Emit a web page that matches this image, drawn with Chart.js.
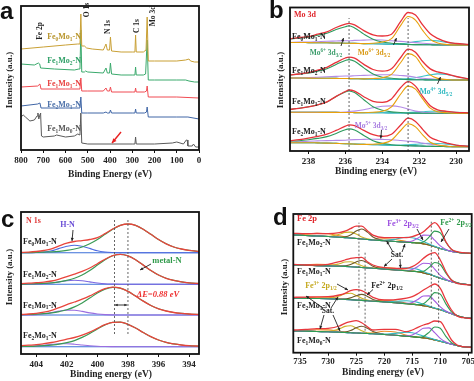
<!DOCTYPE html>
<html><head><meta charset="utf-8">
<script src="https://cdn.jsdelivr.net/npm/chart.js@4.4.1/dist/chart.umd.min.js"></script>
<style>
html,body{margin:0;padding:0;background:#fff;}
body{width:474px;height:381px;position:relative;overflow:hidden;}
canvas{position:absolute;left:0;top:0;}
</style></head>
<body>
<canvas id="ca" width="474" height="381"></canvas>
<canvas id="cb" width="474" height="381"></canvas>
<canvas id="cc" width="474" height="381"></canvas>
<canvas id="cd" width="474" height="381"></canvas>
<script>
// ---------------- DATA ----------------
// Panel a: XPS survey (binding energy eV, intensity a.u. with stacking)
const ticksA = [800,700,600,500,400,300,200,100,0];
const surveyGoldE = [800,700,600,545,535,531,527,515,505,480,430,418,412,402,398,393,350,300,288,285,282,250,238,233,228,200,100,60,45,38,20,0];
const surveyGoldI = [103,105,107,108,108,138,106,106,104,103,102,108,102,102,115,101,100,100,100,117,100,100,102,135,91,91,91,92,93,91,90,90];
const surveyGreenE = [800,740,722,716,712,650,560,540,535,531,527,515,510,500,430,418,412,402,398,393,350,300,288,285,282,250,240,233,228,200,100,60,45,20,0];
const surveyGreenI = [88,87,89,88,84,83,82,83,83,122,80,80,81,80,79,84,79,79,89,78,77,77,77,85,77,77,78,112,72,72,72,72,71,70,70];
const surveyRedE = [800,725,715,710,600,540,535,531,527,500,430,418,412,402,398,393,300,288,285,282,245,236,233,228,100,0];
const surveyRedI = [65,66,68,63,63,63,63,74,61,61,61,64,61,61,65,60,60,60,64,60,60,61,66,55,55,54];
const surveyBlueE = [800,725,715,710,600,540,535,531,527,500,430,418,412,402,398,393,300,288,285,282,245,236,233,228,100,50,0];
const surveyBlueI = [46,48,49,44,44,44,44,55,39,39,39,40,39,39,42,39,39,39,43,39,39,40,45,35,35,35,33];
const surveyGrayE = [800,790,780,760,740,728,724,720,714,712,708,700,650,640,600,560,545,535,531,527,500,400,300,288,285,282,200,120,100,70,57,53,50,30,25,15,0];
const surveyGrayI = [35,37,35,31,32,36,39,33,38,39,16,15,16,17,15,16,18,17,39,9,8,8,8,8,15,8,8,9,10,8,12,12,6,6,8,5,5];

// Panel b: Mo 3d (4 spectra: Fe0Mo1, Fe1Mo2, Fe1Mo1, Fe2Mo1)
const ticksB = [238,236,234,232,230];
const energyB = [239,238.5,238,237.5,237,236.5,236,235.8,235.5,235,234.5,234,233.5,233,232.6,232.2,231.8,231.4,231,230.5,230,229.3];
const offsetB = [106,71,37.7,4.3];
const bgB = [
 [2.5,2.5,2.4,2.3,2.2,2,1.8,1.7,1.6,1.4,1.2,1,0.8,0.6,0.5,0.4,0.3,0.2,0.1,0,0,0],
 [2,2,1.9,1.8,1.7,1.6,1.5,1.4,1.3,1.1,1,0.8,0.7,0.5,0.4,0.3,0.2,0.1,0.1,0,0,0],
 [1,1,1,1,0.9,0.9,0.8,0.8,0.7,0.6,0.5,0.5,0.4,0.3,0.2,0.2,0.1,0.1,0,0,0,0],
 [4,4,4,3.8,3.6,3.3,3,2.8,2.6,2.3,2,1.8,1.5,1.2,1,0.8,0.6,0.4,0.2,0.1,0,0]];
const envB = [
 [3.5,5,6,8.5,11,15.5,19,20,18.5,13,9,8,10,23,32,29.5,19.5,11,6.5,3,1.5,0.5],
 [3,4,5.5,8,11,16,20.5,21.5,20.5,14.5,9.5,8,10.5,22,30.5,27.5,18,11,8,6,3.5,1],
 [3,4,5.5,7.5,10.5,16,21,22.5,21.5,16,11.5,10.5,14,25.5,31.5,27,16.5,7.5,3.5,2,1,0.5],
 [2,3,4.5,6.5,9,13,17.5,19,18.5,14,10,8.5,11,20.5,27.5,24.5,16.5,9,6,3.5,1.5,0.5]];
const mo6_32 = [
 [3.5,4.5,5.5,7.5,9.5,13.5,16.5,17.5,15.5,9.5,4.5,2,1,0.5,0,0,0,0,0,0,0,0],
 [3,4,5,7,9.5,14,18,19,17.5,11,5,2,1,0.5,0,0,0,0,0,0,0,0],
 [3,4,5.5,7.5,10.5,16,20.5,21.5,20,13,6,2.5,1,0.5,0,0,0,0,0,0,0,0],
 [1.5,2,3,4.5,6.5,10,14,15,14,9,4,1.5,0.5,0,0,0,0,0,0,0,0,0]];
const mo5_32 = [
 [0,0.5,0.5,1,1.5,2,2.5,2.5,3,3.5,4,4,3.5,3,2.5,2,1.5,1,0.5,0,0,0],
 [0,0,0.5,1,1.5,2,2.5,2.5,3,3.5,4,4.5,4.5,4,3.5,2.5,1.5,1,0.5,0,0,0],
 [0,0,0,0,0,0,0.5,1,1.5,3,5,6.5,7,6,4,2,1,0.5,0,0,0,0],
 [0.5,1,1.5,2,2.5,3,3.5,4,4.5,5,5.5,5.5,5.5,5,4.5,4,3,2,1.5,0.5,0,0]];
const mo6_52 = [
 [0,0,0,0,0,0,0,0,0,0,0.5,2,5.5,19,28,24.5,14,5.5,2,0.5,0,0],
 [0,0,0,0,0,0,0,0,0,0,0.5,1.5,5,17,26,23,13,5,1.5,0.5,0,0],
 [0,0,0,0,0,0,0,0,0,0,0.5,1.5,6,19,27,24,14,5,1.5,0.5,0,0],
 [0,0,0,0,0,0,0,0,0,0,0.5,1.5,5,15,22,19,11,4,1.5,0.5,0,0]];
const mo4_52 = [
 [0,0,0,0,0,0,0,0,0,0,0,0,0,0.5,1.5,3,4,4.5,4,2.5,1.5,0.5],
 [0,0,0,0,0,0,0,0,0,0,0,0,0,0.5,1,2,3.5,5,6,5.5,3.5,1],
 [0,0,0,0,0,0,0,0,0,0,0,0,0,0,0.5,1,1.5,2,2,1.5,1,0.5],
 [0,0,0,0,0,0,0,0,0,0,0,0,0,0.5,1,1.5,2.5,3,3,2.5,1.5,0.5]];

// Panel c: N 1s (Fe0Mo1, Fe1Mo2, Fe1Mo1, Fe2Mo1)
const ticksC = [404,402,400,398,396,394];
const energyC = [405,404.5,404,403.5,403,402.5,402,401.5,401,400.5,400,399.5,399,398.5,398,397.5,397,396.5,396,395.5,395,394.5,394,393.35];
const offsetC = [101.3,69.7,39,7.3];
const envC = [
 [0.3,0.6,1.2,2.2,3.8,6.8,9.5,11.2,12.1,13.2,15.1,19.1,23.7,27.3,28.7,27.3,23.5,18.4,13.2,8.9,5.7,3.7,2.3,1.2],
 [0.6,1.1,1.6,2.2,3.3,5.2,7.6,10.2,13,16.3,20.6,25.1,28.7,30,28.5,24.6,19.2,13.8,9.3,6,3.9,2.4,1.5,0.8],
 [0.5,1,1.7,2.8,4.6,7.4,10.3,13,15.8,19.1,23,26.3,27.8,26.9,23.7,18.9,13.9,9.5,6.2,4,2.5,1.6,1,0.5],
 [1,1.5,2,3,4.2,5.8,7.5,9.2,11.5,14.5,18.4,22,24.4,24.5,22.4,18.7,14.2,10,6.7,4.3,2.8,1.7,1,0.6]];
const metalN = [
 [0,0.1,0.3,0.6,0.9,1.4,2.3,3.7,5.7,8.9,13.2,18.4,23.5,27.3,28.7,27.3,23.5,18.4,13.2,8.9,5.7,3.7,2.3,1.2],
 [0.15,0.3,0.6,0.9,1.5,2.4,3.9,6,9.3,13.8,19.2,24.6,28.5,30,28.5,24.6,19.2,13.8,9.3,6,3.9,2.4,1.5,0.8],
 [0.3,0.5,0.8,1.3,2.1,3.4,5.2,8.1,12,16.9,22,25.9,27.7,26.9,23.7,18.9,13.9,9.5,6.2,4,2.5,1.6,1,0.5],
 [0.2,0.35,0.6,1,1.6,2.5,4,6.1,9.3,13.3,17.8,21.8,24.3,24.5,22.4,18.7,14.2,10,6.7,4.3,2.8,1.7,1,0.6]];
const hN = [
 [0,0,0.2,0.7,1.9,4.3,6.4,7.5,6.4,4.3,1.9,0.7,0.2,0,0,0,0,0,0,0,0,0,0,0],
 [0,0,0.2,0.5,1.3,2.4,3.5,4,3.5,2.4,1.3,0.5,0.2,0,0,0,0,0,0,0,0,0,0,0],
 [0,0.1,0.4,1.2,2.4,3.9,4.9,4.8,3.6,2.1,1,0.35,0.1,0,0,0,0,0,0,0,0,0,0,0],
 [0.1,0.4,0.8,1.5,2.3,2.9,2.95,2.5,1.7,0.9,0.4,0.15,0.05,0,0,0,0,0,0,0,0,0,0,0]];

// Panel d: Fe 2p (Fe1Mo2, Fe1Mo1, Fe2Mo1, Fe1Mo0)
const ticksD = [735,730,725,720,715,710,705];
const energyD = [736.2,734,732,730,728,727,726,725,724,723,722,720,718,716,715,714,713,712,711,710,709,708,707,706,704.4];
const bgD = [
 [117.7,117.2,116.7,116.2,115.5,115.1,114.7,114.2,113.7,113.2,112.7,112,111.2,110.5,110.1,109.7,108.8,107.7,106,104.2,102.7,101.2,100.4,99.7,99.2],
 [87.7,87.4,87.1,86.8,86.5,86.3,86,85.6,85.2,84.8,84.4,83.6,82.7,81.9,81.5,81,79.7,78.4,76.4,74.4,72.7,71,69.8,68.7,67.7],
 [54.5,54.3,54.2,54,53.5,53.3,53,52.6,52.3,51.9,51.5,50.8,50,49,48.5,48,47,46,44.5,43,41,39,37,35.5,34.2],
 [21.7,21.5,21.2,21,20.5,20.2,20,19.7,19.5,19.2,19,18.2,17.5,16.5,16,15.5,14.8,14,12.8,11.5,10,8.5,7.2,6,5.4]];
const envD = [
 [119.4,119,119.2,119,120,121.5,124,126.5,126.5,122,117.5,115,115,115,116,118,121,126,130,124,111,103.5,101,100,99.3],
 [88.4,87.7,87.7,88.4,91,92.7,94.4,95,95.4,91,87.7,85,84.4,84.4,86,89.4,94.4,98.4,100,92.7,81,72.7,69.4,68.4,67.7],
 [55.4,55.6,55.8,56,57.7,59.4,62,63,62,59,55.4,52.7,53,54.5,56,59,62.7,66,68.7,64.4,52.7,42.7,36.7,35,34.2],
 [22.7,23.3,24,24.4,26.7,29.4,31,32,30,26,22.7,23.4,23.4,21,22.7,25.4,27.7,29.4,31.7,31,22.7,12.7,7.7,6,5.4]];
const fe2_32 = [
 [0,0,0,0,0,0,0,0,0,0,0,0,0,0,0,0,1.9,7.8,15.6,15.6,7.8,1.9,0.2,0,0],
 [0,0,0,0,0,0,0,0,0,0,0,0,0,0,0,0,1.7,6.9,13.8,13.8,6.9,1.7,0.2,0,0],
 [0,0,0,0,0,0,0,0,0,0,0,0,0,0,0,0,1.9,7.8,15.6,15.6,7.8,1.9,0.2,0,0],
 [0,0,0,0,0,0,0,0,0,0,0,0,0,0,0,0,1.5,6.4,12.9,12.9,6.4,1.5,0.1,0,0]];
const fe3_32 = [
 [0,0,0,0,0,0,0,0,0,0,0,0,0,0.3,1.6,4.8,8.8,9.8,6.5,2.6,0.6,0.1,0,0,0],
 [0,0,0,0,0,0,0,0,0,0,0,0,0,0.3,1.8,5.3,9.7,10.8,7.2,2.9,0.7,0.1,0,0,0],
 [0,0,0,0,0,0,0,0,0,0,0,0,0,0.3,1.8,5.3,9.7,10.8,7.2,2.9,0.7,0.1,0,0,0],
 [0,0,0,0,0,0,0,0,0,0,0,0,0,0.3,1.8,5.3,9.7,10.8,7.2,2.9,0.7,0.1,0,0,0]];
const satCyan = [
 [0,0,0,0,0,0,0,0,0,0,0.05,0.4,2.3,4.9,4.9,3.8,2.3,1.1,0.4,0.1,0,0,0,0,0],
 [0,0,0,0,0,0,0,0,0,0,0,0.2,1.4,2.9,2.9,2.3,1.4,0.7,0.2,0.1,0,0,0,0,0],
 [0,0,0,0,0,0,0,0,0,0,0,0.2,1.4,2.9,2.9,2.3,1.4,0.7,0.2,0.1,0,0,0,0,0],
 [0,0,0,0,0,0,0,0,0,0,0,0.3,1.8,3.9,3.9,3,1.8,0.9,0.3,0.1,0,0,0,0,0]];
const fe2_12 = [
 [0,0,0,0,0,0.7,3,7.4,10,7.4,3,0.1,0,0,0,0,0,0,0,0,0,0,0,0,0],
 [0,0,0,0,0,0.5,2.1,5.2,7,5.2,2.1,0.1,0,0,0,0,0,0,0,0,0,0,0,0,0],
 [0,0,0,0,0,0.4,1.8,4.4,6,4.4,1.8,0.1,0,0,0,0,0,0,0,0,0,0,0,0,0],
 [0,0,0,0,0,0.5,2.1,5.2,7,5.2,2.1,0.1,0,0,0,0,0,0,0,0,0,0,0,0,0]];
const fe3_12 = [
 [0,0,0,0.2,2.9,5.2,5.9,4.4,2,0.6,0.1,0,0,0,0,0,0,0,0,0,0,0,0,0,0],
 [0,0,0,0.2,2.5,4.4,5,3.7,1.7,0.5,0.1,0,0,0,0,0,0,0,0,0,0,0,0,0,0],
 [0,0,0,0.3,3.2,5.7,6.4,4.7,2.2,0.7,0.1,0,0,0,0,0,0,0,0,0,0,0,0,0,0],
 [0,0,0,0.3,3.4,6.1,6.9,5.1,2.4,0.7,0.1,0,0,0,0,0,0,0,0,0,0,0,0,0,0]];
const satOrange = [
 [0.3,1.2,2.6,2.7,1.4,0.8,0.3,0.1,0,0,0.5,2,2,0.6,0.3,0.1,0,0,0,0,0,0,0,0,0],
 [0.2,0.6,1.3,1.4,0.7,0.4,0.2,0,0,0,0.4,1.6,1.6,0.5,0.2,0.1,0,0,0,0,0,0,0,0,0],
 [0.2,0.6,1.3,1.4,0.7,0.4,0.2,0,0,0,0.4,1.6,1.6,0.5,0.2,0.1,0,0,0,0,0,0,0,0,0],
 [0.2,0.8,1.7,1.8,0.9,0.5,0.2,0.1,0,0,0.8,3.2,3.2,1,0.4,0.1,0,0,0,0,0,0,0,0,0]];

// ---------------- HELPERS ----------------
const W = 474, H = 381;
const SERIF = '"Liberation Serif","Times New Roman",serif';
const SANS = '"Liberation Sans",Arial,sans-serif';
const pairs = (E, Y) => E.map((e, i) => ({x: e, y: Y[i]}));
const stack = (E, off, bg, v) => E.map((e, i) => ({x: e, y: off + (bg ? bg[i] : 0) + (v ? v[i] : 0)}));

function segs(s){
  const out = []; let cur = ''; let i = 0;
  while (i < s.length){
    if ((s[i] === '_' || s[i] === '^') && s[i+1] === '{'){
      if (cur) out.push({t: cur, k: 0}); cur = '';
      const j = s.indexOf('}', i);
      out.push({t: s.slice(i+2, j), k: s[i] === '_' ? 1 : 2});
      i = j + 1;
    } else { cur += s[i]; i++; }
  }
  if (cur) out.push({t: cur, k: 0});
  return out;
}
function rich(ctx, L){
  const sz = L.s || 8;
  const fam = L.f || SERIF;
  const font = k => `${L.it ? 'italic ' : ''}bold ${k ? sz*0.68 : sz}px ${fam}`;
  const sg = segs(L.t); let w = 0;
  sg.forEach(g => { ctx.font = font(g.k); g.w = ctx.measureText(g.t).width; w += g.w; });
  ctx.save();
  ctx.translate(L.x, L.y);
  if (L.r) ctx.rotate(L.r);
  let x = L.a === 'center' ? -w/2 : (L.a === 'right' ? -w : 0);
  ctx.fillStyle = L.c || '#222'; ctx.textBaseline = 'middle'; ctx.textAlign = 'left';
  sg.forEach(g => {
    ctx.font = font(g.k);
    const dy = g.k === 1 ? sz*0.3 : (g.k === 2 ? -sz*0.33 : 0);
    ctx.fillText(g.t, x, dy); x += g.w;
  });
  ctx.restore();
}
function arrow(ctx, A){
  const [x1,y1,x2,y2] = A.p; const hs = A.h || 3.5;
  ctx.save(); ctx.strokeStyle = A.c || '#222'; ctx.fillStyle = A.c || '#222'; ctx.lineWidth = A.w || 0.9;
  ctx.beginPath(); ctx.moveTo(x1,y1); ctx.lineTo(x2,y2); ctx.stroke();
  const heads = A.both ? [[x2,y2,x1,y1],[x1,y1,x2,y2]] : [[x1,y1,x2,y2]];
  heads.forEach(([ax,ay,bx,by]) => {
    const an = Math.atan2(by-ay, bx-ax);
    ctx.beginPath(); ctx.moveTo(bx,by);
    ctx.lineTo(bx - hs*Math.cos(an-0.45), by - hs*Math.sin(an-0.45));
    ctx.lineTo(bx - hs*Math.cos(an+0.45), by - hs*Math.sin(an+0.45));
    ctx.closePath(); ctx.fill();
  });
  ctx.restore();
}

function build(id, P){
  const axisH = 20;
  const datasets = P.series.map(s => ({
    data: s.d, borderColor: s.c, borderWidth: s.w || 1, pointRadius: 0, fill: false,
    tension: 0, cubicInterpolationMode: P.smooth ? 'monotone' : 'default'
  }));
  new Chart(document.getElementById(id).getContext('2d'), {
    type: 'line',
    data: {datasets},
    options: {
      responsive: false, animation: false, events: [], devicePixelRatio: 1,
      layout: {autoPadding: false, padding: {left: P.area[0], top: P.area[1], right: W - P.area[2], bottom: H - P.area[3] - axisH}},
      plugins: {legend: {display: false}, tooltip: {enabled: false}, title: {display: false}},
      scales: {
        x: {
          type: 'linear', reverse: true, min: P.xr[0], max: P.xr[1],
          afterBuildTicks: s => { s.ticks = P.ticks.map(v => ({value: v})); },
          afterFit: s => { s.height = axisH; s.paddingLeft = 0; s.paddingRight = 0; },
          ticks: {autoSkip: false, maxRotation: 0, padding: P.tpad, color: '#222',
                  font: {family: SERIF, weight: 'bold', size: 9}, callback: v => String(v)},
          grid: {drawOnChartArea: false, drawTicks: true, tickLength: 3, color: '#111', lineWidth: 1},
          border: {display: false}
        },
        y: {display: false, min: P.yr[0], max: P.yr[1]}
      }
    },
    plugins: [{
      id: 'deco',
      afterDraw(ch){
        const ctx = ch.ctx, a = ch.chartArea, xs = ch.scales.x, ys = ch.scales.y;
        (P.vlines || []).forEach(v => {
          const px = xs.getPixelForValue(v[0]);
          ctx.save(); ctx.strokeStyle = '#555'; ctx.lineWidth = 0.9; ctx.setLineDash([2,2]);
          ctx.beginPath(); ctx.moveTo(px, ys.getPixelForValue(v[1])); ctx.lineTo(px, ys.getPixelForValue(v[2])); ctx.stroke();
          ctx.restore();
        });
        ctx.save(); ctx.strokeStyle = '#111'; ctx.lineWidth = 1.8;
        ctx.strokeRect(a.left, a.top, a.right - a.left, a.bottom - a.top); ctx.restore();
        (P.arrows || []).forEach(A => arrow(ctx, A));
        (P.texts || []).forEach(L => rich(ctx, L));
        ctx.save(); ctx.fillStyle = '#111'; ctx.font = `bold 24px ${SANS}`; ctx.textBaseline = 'alphabetic';
        ctx.fillText(P.letter[0], P.letter[1], P.letter[2]); ctx.restore();
      }
    }]
  });
}

const PI2 = -Math.PI/2;
const DARK = '#222';

// ---------------- PANEL A ----------------
build('ca', {
  area: [21, 6, 199, 150], xr: [0, 800], yr: [2, 146], ticks: ticksA, tpad: 2, smooth: false,
  letter: ['a', 0, 19],
  series: [
    {d: pairs(surveyGoldE, surveyGoldI), c: '#c9a035'},
    {d: pairs(surveyGreenE, surveyGreenI), c: '#3aa96c'},
    {d: pairs(surveyRedE, surveyRedI), c: '#f04b52'},
    {d: pairs(surveyBlueE, surveyBlueI), c: '#4066a6'},
    {d: pairs(surveyGrayE, surveyGrayI), c: '#5a5a5a'}
  ],
  arrows: [{p: [121, 132, 112, 143], c: '#e82020', w: 1.4, h: 5}],
  texts: [
    {t: 'Fe 2p', x: 40, y: 31, r: PI2, s: 7.5, a: 'center', c: DARK},
    {t: 'O 1s', x: 87, y: 10, r: PI2, s: 7.5, a: 'center', c: DARK},
    {t: 'N 1s', x: 108, y: 27, r: PI2, s: 7.5, a: 'center', c: DARK},
    {t: 'C 1s', x: 137, y: 26, r: PI2, s: 7.5, a: 'center', c: DARK},
    {t: 'Mo 3d', x: 153, y: 16, r: PI2, s: 7.5, a: 'center', c: DARK},
    {t: 'Fe_{0}Mo_{1}-N', x: 81, y: 37, s: 8, a: 'right', c: '#b8952c'},
    {t: 'Fe_{1}Mo_{2}-N', x: 81, y: 61, s: 8, a: 'right', c: '#2e9f66'},
    {t: 'Fe_{1}Mo_{1}-N', x: 81, y: 84, s: 8, a: 'right', c: '#e8403f'},
    {t: 'Fe_{2}Mo_{1}-N', x: 81, y: 105, s: 8, a: 'right', c: '#4a6fa8'},
    {t: 'Fe_{1}Mo_{0}-N', x: 81, y: 129, s: 8, a: 'right', c: '#555'},
    {t: 'Intensity (a.u.)', x: 10, y: 80, r: PI2, s: 9, a: 'center', c: DARK},
    {t: 'Binding Energy (eV)', x: 110, y: 175, s: 9.5, a: 'center', c: DARK}
  ]
});

// ---------------- PANEL B ----------------
const seriesB = [];
for (let k = 0; k < 4; k++){
  const off = offsetB[k], bg = bgB[k];
  seriesB.push({d: stack(energyB, off, bg, envB[k]), c: '#e8323a', w: 1.3});
  seriesB.push({d: stack(energyB, off, bg, mo6_52[k]), c: '#e8a10c', w: 1.1});
  seriesB.push({d: stack(energyB, off, bg, mo6_32[k]), c: '#2e9b5e', w: 1.1});
  seriesB.push({d: stack(energyB, off, bg, mo5_32[k]), c: '#b48be6', w: 1.1});
  seriesB.push({d: stack(energyB, off, bg, mo4_52[k]), c: '#3dc3c9', w: 1.1});
  seriesB.push({d: stack(energyB, off, bg, null), c: '#2a8fa6', w: 1.1});
}
build('cb', {
  area: [290, 7.5, 469, 151], xr: [229.3, 239], yr: [0, 143.5], ticks: ticksB, tpad: 2, smooth: true,
  letter: ['b', 269, 18],
  series: seriesB,
  vlines: [[235.8, 0, 133], [232.6, 0, 133]],
  arrows: [
    {p: [341, 46, 343.5, 38]}, {p: [393.5, 45, 396.5, 38]},
    {p: [437.5, 84, 440.5, 77]}, {p: [381.5, 130, 380.8, 138.5]}
  ],
  texts: [
    {t: 'Mo 3d', x: 294, y: 15, s: 8, c: '#e0252b'},
    {t: 'Fe_{0}Mo_{1}-N', x: 292, y: 37, s: 8, c: DARK},
    {t: 'Fe_{1}Mo_{2}-N', x: 292, y: 71, s: 8, c: DARK},
    {t: 'Fe_{1}Mo_{1}-N', x: 292, y: 102, s: 8, c: DARK},
    {t: 'Fe_{2}Mo_{1}-N', x: 292, y: 132, s: 8, c: DARK},
    {t: 'Mo^{6+} 3d_{3/2}', x: 326, y: 53, s: 7.5, a: 'center', c: '#3a9c6a'},
    {t: 'Mo^{6+} 3d_{5/2}', x: 374, y: 53, s: 7.5, a: 'center', c: '#d99a16'},
    {t: 'Mo^{4+} 3d_{5/2}', x: 436, y: 92, s: 7.5, a: 'center', c: '#2fb9c0'},
    {t: 'Mo^{5+} 3d_{3/2}', x: 371, y: 126, s: 7.5, a: 'center', c: '#a77be0'},
    {t: 'Intensity (a.u.)', x: 281, y: 80, r: PI2, s: 9, a: 'center', c: DARK},
    {t: 'Binding energy (eV)', x: 376, y: 172, s: 9.5, a: 'center', c: DARK}
  ]
});

// ---------------- PANEL C ----------------
const seriesC = [];
const hnColor = ['#4f6be0', '#7a66e0', '#9a6ee0', '#9a6ee0'];
for (let k = 0; k < 4; k++){
  const off = offsetC[k];
  seriesC.push({d: stack(energyC, off, null, envC[k]), c: '#e8453c', w: 1.3});
  seriesC.push({d: stack(energyC, off, null, metalN[k]), c: '#3a9a55', w: 1.2});
  seriesC.push({d: stack(energyC, off, null, hN[k]), c: hnColor[k], w: 1.1});
  seriesC.push({d: stack(energyC, off, null, null), c: '#3b6fd8', w: 1.1});
}
build('cc', {
  area: [21, 212, 199, 354], xr: [393.35, 405], yr: [0, 142], ticks: ticksC, tpad: 2, smooth: true,
  letter: ['c', 1, 227],
  series: seriesC,
  vlines: [[398.88, 20, 136], [398.0, 20, 136]],
  arrows: [
    {p: [73, 230, 72, 241], c: '#222'},
    {p: [151, 264, 140, 270], c: '#222'},
    {p: [115, 305, 127, 305], c: '#222', both: true, h: 3}
  ],
  texts: [
    {t: 'N 1s', x: 26, y: 221, s: 8, c: '#e03a3a'},
    {t: 'H-N', x: 67.5, y: 225, s: 8, a: 'center', c: '#6b4fd6'},
    {t: 'Fe_{0}Mo_{1}-N', x: 23, y: 242, s: 8, c: DARK},
    {t: 'Fe_{1}Mo_{2}-N', x: 23, y: 275, s: 8, c: DARK},
    {t: 'Fe_{1}Mo_{1}-N', x: 23, y: 305.5, s: 8, c: DARK},
    {t: 'Fe_{2}Mo_{1}-N', x: 23, y: 336, s: 8, c: DARK},
    {t: 'metal-N', x: 167, y: 261, s: 8.5, a: 'center', c: '#2f9a4a'},
    {t: 'ΔE=0.88 eV', x: 158, y: 295, s: 8.5, a: 'center', c: '#ee3030', it: true},
    {t: 'Intensity (a.u.)', x: 10, y: 277, r: PI2, s: 9, a: 'center', c: DARK},
    {t: 'Binding energy (eV)', x: 111, y: 375, s: 9.5, a: 'center', c: DARK}
  ]
});

// ---------------- PANEL D ----------------
const seriesD = [];
for (let k = 0; k < 4; k++){
  const bg = bgD[k];
  seriesD.push({d: pairs(energyD, envD[k]), c: '#e8383d', w: 1.3});
  seriesD.push({d: stack(energyD, 0, bg, fe2_32[k]), c: '#2e9c54', w: 1.1});
  seriesD.push({d: stack(energyD, 0, bg, fe3_32[k]), c: '#a35ce0', w: 1.1});
  seriesD.push({d: stack(energyD, 0, bg, satCyan[k]), c: '#33b9c4', w: 1.1});
  seriesD.push({d: stack(energyD, 0, bg, fe2_12[k]), c: '#6e5a2a', w: 1.1});
  seriesD.push({d: stack(energyD, 0, bg, fe3_12[k]), c: '#cdb22a', w: 1.1});
  seriesD.push({d: stack(energyD, 0, bg, satOrange[k]), c: '#ef8a24', w: 1.1});
  seriesD.push({d: stack(energyD, 0, bg, null), c: '#3a8fc0', w: 1.1});
}
build('cd', {
  area: [293.3, 214, 471.7, 352.7], xr: [704.4, 736.2], yr: [0, 138.7], ticks: ticksD, tpad: 1, smooth: true,
  letter: ['d', 273, 225],
  series: seriesD,
  vlines: [[724.5, 45, 130], [723.4, 22, 100], [711.6, 45, 131], [710.3, 30, 105]],
  arrows: [
    {p: [417, 229, 423, 240]}, {p: [449, 229, 441, 242]},
    {p: [393, 252, 386.7, 241]}, {p: [402, 252, 405, 244]},
    {p: [392, 259, 384, 266.5]}, {p: [400, 259, 400.5, 268]},
    {p: [337, 284, 348, 290]}, {p: [373, 289.5, 367, 295]},
    {p: [323, 308, 306, 296]}, {p: [331, 308, 338, 297]},
    {p: [324, 315, 320, 329]}, {p: [333, 315, 340, 331]}
  ],
  texts: [
    {t: 'Fe 2p', x: 297, y: 219, s: 8.5, c: '#e0252b'},
    {t: 'Fe^{3+} 2p_{3/2}', x: 403, y: 224, s: 8, a: 'center', c: '#9b4fe0'},
    {t: 'Fe^{2+} 2p_{3/2}', x: 456, y: 223, s: 8, a: 'center', c: '#2f9a4a'},
    {t: 'Fe_{1}Mo_{2}-N', x: 297, y: 243, s: 8, c: DARK},
    {t: 'Fe_{1}Mo_{1}-N', x: 297, y: 272, s: 8, c: DARK},
    {t: 'Fe_{2}Mo_{1}-N', x: 297, y: 306, s: 8, c: DARK},
    {t: 'Fe_{1}Mo_{0}-N', x: 297, y: 341, s: 8, c: DARK},
    {t: 'Sat.', x: 397, y: 255.5, s: 7.5, a: 'center', c: DARK},
    {t: 'Sat.', x: 328, y: 311.5, s: 7.5, a: 'center', c: DARK},
    {t: 'Fe^{3+} 2p_{1/2}', x: 321, y: 286, s: 8, a: 'center', c: '#c4a81e'},
    {t: 'Fe^{2+} 2p_{1/2}', x: 387, y: 286, s: 8, a: 'center', c: DARK},
    {t: 'Intensity (a.u.)', x: 285, y: 287, r: PI2, s: 9, a: 'center', c: DARK},
    {t: 'Binding energy (eV)', x: 383, y: 373, s: 9.5, a: 'center', c: DARK}
  ]
});
</script>
</body></html>
